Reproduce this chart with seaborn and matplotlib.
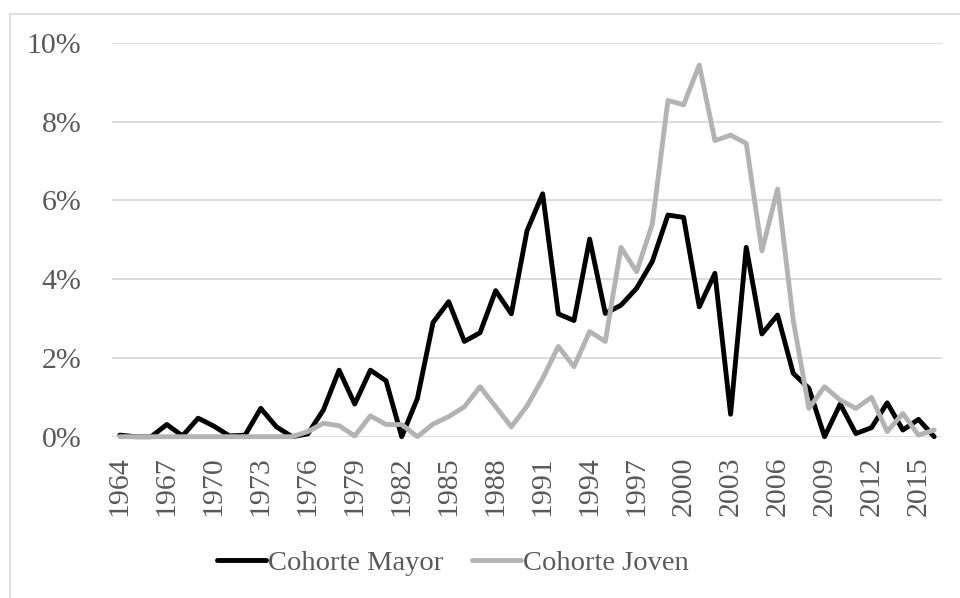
import matplotlib.pyplot as plt
from matplotlib.lines import Line2D
import seaborn as sns
import pandas as pd
import numpy as np

# years on the x axis
years = list(range(1964, 2017))

# share per year, in percent
cohorte_mayor = [0.04, 0.0, 0.0, 0.31, 0.02, 0.47, 0.27, 0.02, 0.04, 0.72,
                 0.25, 0.0, 0.07, 0.68, 1.69, 0.83, 1.69, 1.42, 0.0, 0.97,
                 2.90, 3.43, 2.42, 2.64, 3.71, 3.12, 5.23, 6.17, 3.12, 2.95,
                 5.02, 3.13, 3.34, 3.77, 4.45, 5.63, 5.57, 3.30, 4.15, 0.57,
                 4.81, 2.61, 3.09, 1.61, 1.23, 0.0, 0.83, 0.08, 0.23, 0.86,
                 0.17, 0.44, 0.0]
cohorte_joven = [0.0, 0.0, 0.0, 0.0, 0.0, 0.0, 0.0, 0.0, 0.0, 0.0,
                 0.0, 0.0, 0.13, 0.34, 0.28, 0.02, 0.53, 0.31, 0.31, 0.0,
                 0.32, 0.51, 0.76, 1.27, 0.76, 0.25, 0.78, 1.48, 2.29, 1.78,
                 2.67, 2.42, 4.81, 4.19, 5.40, 8.54, 8.43, 9.44, 7.52, 7.66,
                 7.45, 4.72, 6.29, 2.96, 0.72, 1.27, 0.93, 0.72, 1.00, 0.13,
                 0.59, 0.04, 0.17]

series_names = ['Cohorte Mayor', 'Cohorte Joven']
series_colors = ['#000000', '#b3b3b3']
y_ticks = [0, 2, 4, 6, 8, 10]


def set_style():
	sns.set_style("white")
	plt.rcParams.update({
		"font.family": ["Liberation Serif", "DejaVu Serif"],
		"font.size": 20.5,
		"xtick.labelsize": 21.5,
		"ytick.labelsize": 21.5,
		"xtick.color": "#595959",
		"ytick.color": "#595959",
	})


if __name__ == '__main__':
	set_style()

	df = pd.DataFrame({
		'year': years * 2,
		'value': [v / 100 for v in cohorte_mayor + cohorte_joven],
		'serie': [series_names[0]] * len(years) + [series_names[1]] * len(years),
	})

	fig = plt.figure(figsize=(9.6, 5.98), dpi=100)
	ax = fig.add_axes([112 / 960, 1 - 436.7 / 598, 830 / 960, (436.7 - 43) / 598])

	sns.lineplot(data=df, x='year', y='value', hue='serie',
		palette=dict(zip(series_names, series_colors)),
		linewidth=3.5, ax=ax, legend=False, clip_on=False, zorder=3)

	ax.set_xlim(years[0] - 0.5, years[-1] + 0.5)
	ax.set_ylim(0, 0.10)
	ax.set_xticks(years[::3])
	ax.set_xticklabels([str(y) for y in years[::3]], rotation=90)
	ax.set_yticks([t / 100 for t in y_ticks])
	ax.set_yticklabels(['%d%%' % t for t in y_ticks])
	ax.tick_params(axis='x', length=0, pad=14)
	ax.tick_params(axis='y', length=0, pad=22)
	ax.set_xlabel('')
	ax.set_ylabel('')

	ax.grid(axis='y', color='#d9d9d9', linewidth=1.3)
	ax.set_axisbelow(True)
	for s in ax.spines.values():
		s.set_visible(False)

	handles = [Line2D([0], [0], color=c, linewidth=3.5, solid_capstyle='round') for c in series_colors]
	leg = fig.legend(handles, series_names, loc='center', bbox_to_anchor=(0.472, 1 - 563 / 598),
		ncol=2, frameon=False, handlelength=1.7, handletextpad=0.1, columnspacing=1.0)
	for t in leg.get_texts():
		t.set_color('#595959')

	# chart frame
	fig.add_artist(Line2D([10 / 960, 10 / 960], [1 - 14 / 598, 0], transform=fig.transFigure,
		color='#d9d9d9', linewidth=1.2))
	fig.add_artist(Line2D([10 / 960, 1], [1 - 14 / 598, 1 - 14 / 598], transform=fig.transFigure,
		color='#d9d9d9', linewidth=1.2))

	fig.savefig('out.png', dpi=100)
